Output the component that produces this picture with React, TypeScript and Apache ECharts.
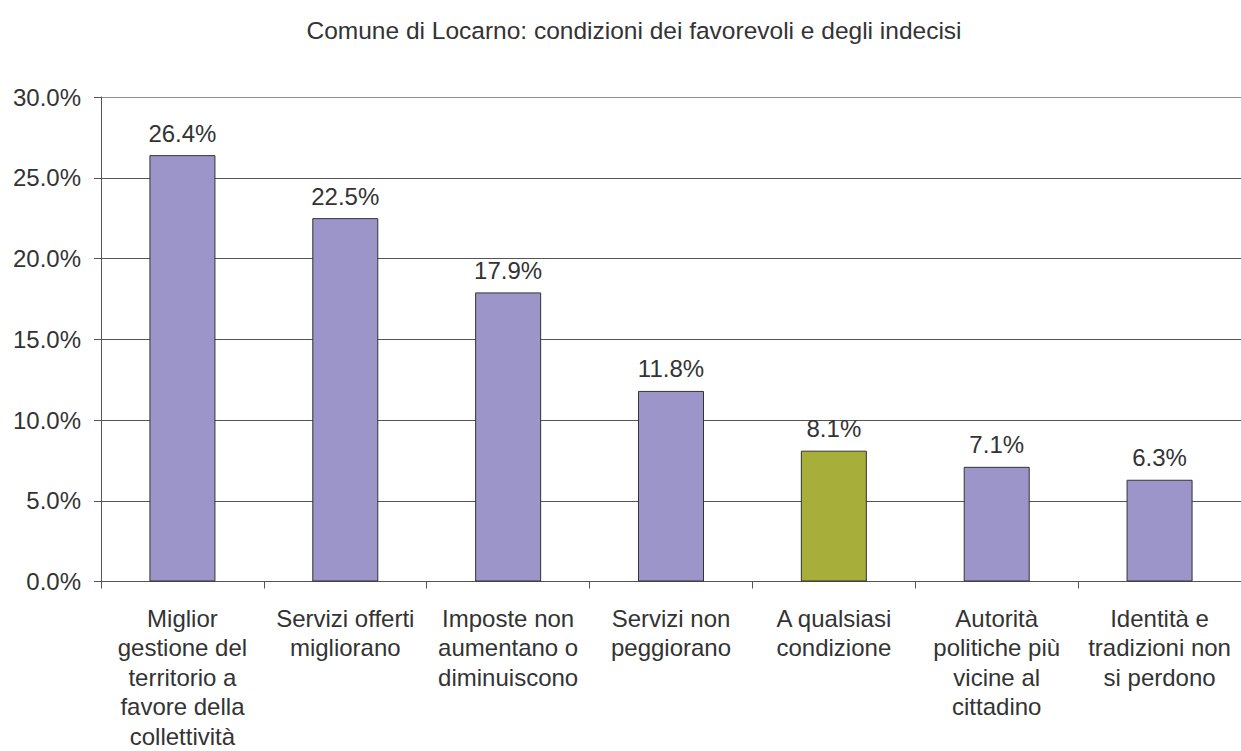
import React, { useEffect, useRef } from "react";
import * as echarts from "echarts";

const title = "Comune di Locarno: condizioni dei favorevoli e degli indecisi";
const categories = [
  "Miglior\ngestione del\nterritorio a\nfavore della\ncollettività",
  "Servizi offerti\nmigliorano",
  "Imposte non\naumentano o\ndiminuiscono",
  "Servizi non\npeggiorano",
  "A qualsiasi\ncondizione",
  "Autorità\npolitiche più\nvicine al\ncittadino",
  "Identità e\ntradizioni non\nsi perdono",
];
const values = [26.4, 22.5, 17.9, 11.8, 8.1, 7.1, 6.3];
const barColors = ["#9b95c9", "#9b95c9", "#9b95c9", "#9b95c9", "#a7ae3a", "#9b95c9", "#9b95c9"];

export default function App() {
  const ref = useRef<HTMLDivElement>(null);
  useEffect(() => {
    if (!ref.current) return;
    const chart = echarts.init(ref.current, null, { renderer: "svg" });
    const font = "Liberation Sans, Arial, sans-serif";
    const fs = 24;
    chart.setOption({
      animation: false,
      backgroundColor: "#ffffff",
      title: {
        text: title,
        left: 629,
        textAlign: "center",
        top: 13,
        textStyle: { fontFamily: font, fontSize: 24.5, fontWeight: "normal", color: "#333" },
      },
      grid: { left: 101, right: -10, top: 97, bottom: 168 },
      xAxis: {
        type: "category",
        data: categories,
        axisLine: { show: true, lineStyle: { color: "#555", width: 1 } },
        axisTick: { show: true, alignWithLabel: false, length: 7, lineStyle: { color: "#555" } },
        axisLabel: {
          interval: 0,
          margin: 22,
          fontFamily: font,
          fontSize: fs,
          lineHeight: 29.5,
          color: "#333",
        },
      },
      yAxis: {
        type: "value",
        min: 0,
        max: 30,
        interval: 5,
        axisLine: { show: true, lineStyle: { color: "#555", width: 1 } },
        axisTick: { show: true, length: 7, lineStyle: { color: "#555" } },
        splitLine: {
          show: true,
          lineStyle: {
            color: ["#555", "#555", "#555", "#555", "#555", "#555", "#9c8a8a"],
            width: 1,
          },
        },
        axisLabel: {
          formatter: (v: number) => v.toFixed(1) + "%",
          fontFamily: font,
          fontSize: fs,
          color: "#333",
          margin: 20,
        },
      },
      series: [
        {
          type: "bar",
          barWidth: 66,
          data: values.map((v, i) => ({
            value: v,
            itemStyle: { color: barColors[i], borderColor: "#333", borderWidth: 1 },
          })),
          label: {
            show: true,
            position: "top",
            distance: 10,
            formatter: (p: any) => Number(p.value).toFixed(1) + "%",
            fontFamily: font,
            fontSize: fs,
            color: "#333",
          },
        },
      ],
    });
    return () => chart.dispose();
  }, []);
  return <div ref={ref} style={{ width: 1241, height: 751, position: "absolute", left: 0, top: 0 }} />;
}
